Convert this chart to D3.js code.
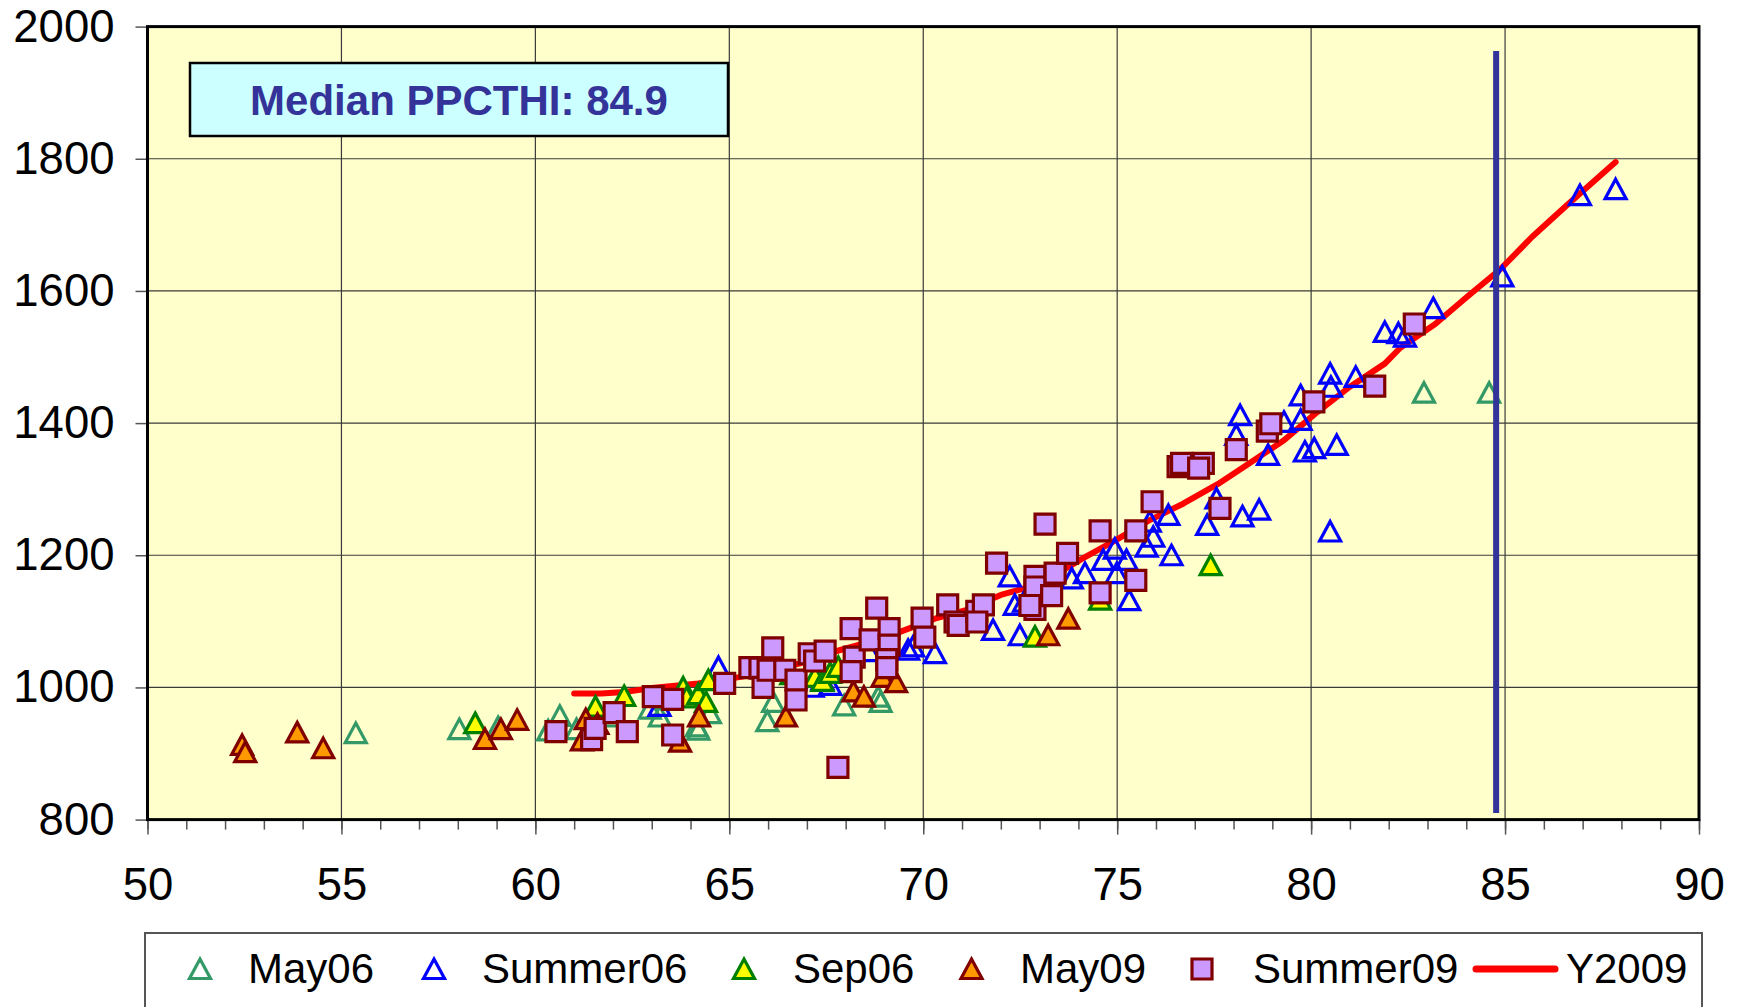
<!DOCTYPE html>
<html>
<head>
<meta charset="utf-8">
<script src="https://cdn.jsdelivr.net/npm/d3@7/dist/d3.min.js"></script>
<style>
  html, body { margin: 0; padding: 0; background: #ffffff; }
  svg { display: block; font-family: "Liberation Sans", Arial, sans-serif; }
</style>
</head>
<body>
<svg id="chart" width="1739" height="1007"></svg>
<script>
// ---------------- DATA ----------------
const xTicks = [50, 55, 60, 65, 70, 75, 80, 85, 90];
const yTicks = [800, 1000, 1200, 1400, 1600, 1800, 2000];
const seriesNames = ["May06", "Summer06", "Sep06", "May09", "Summer09", "Y2009"];
const medianLabel = "Median PPCTHI: 84.9";
const medianValue = 84.77;

const may06 = [[55.37,931],[58.04,937],[59.04,940],[60.33,935],[60.63,957],[61.06,937],[62.0,956],
  [62.95,968],[63.21,956],[64.16,941],[64.2,936],[64.5,961],[65.98,949],[66.13,978],[67.96,973],
  [68.84,986],[68.9,978],[82.91,1446],[84.59,1446]];

const summer06 = [[63.2,972],[64.72,1031],[67.15,1001],[67.6,1004],[67.4,1012],[68.6,1055],[69.61,1057],
  [69.74,1062],[70.3,1052],[71.8,1087],[72.23,1168],[72.36,1125],[72.49,1079],[72.6,1130],
  [73.83,1165],[74.17,1173],[74.64,1193],[74.94,1210],[74.99,1173],[75.24,1193],[75.76,1213],
  [75.93,1228],[75.84,1251],[76.32,1261],[76.4,1200],[75.31,1132],[77.56,1286],[77.32,1246],
  [78.23,1259],[78.66,1269],[78.07,1382],[78.17,1412],[78.89,1352],[79.84,1357],[80.08,1362],
  [80.66,1367],[80.49,1236],[79.3,1402],[79.73,1405],[79.73,1442],[80.49,1475],[80.51,1455],
  [81.15,1470],[81.9,1538],[82.25,1536],[82.42,1531],[83.15,1574],[84.93,1622],[86.93,1745],[87.85,1754]];

const sep06 = [[58.45,946],[61.55,971],[62.29,987],[63.81,1000],[63.9,985],[64.2,990],[64.4,978],
  [64.46,1011],[66.6,1020],[67.21,1016],[67.4,1010],[67.6,1022],[67.81,1031],[72.88,1077],
  [74.56,1133],[77.41,1185]];

const may09 = [[52.44,913],[52.52,902],[53.86,932],[54.53,908],[58.7,922],[59.11,937],[59.53,951],
  [61.2,920],[61.3,952],[61.6,945],[63.73,918],[64.22,956],[66.46,956],[68.2,994],[68.47,986],
  [68.95,1016],[69.3,1008],[73.22,1079],[73.74,1104]];

const summer09 = [[60.53,933],[61.45,921],[61.54,938],[62.03,962],[62.37,933],[63.04,986],[63.54,982],
  [63.54,928],[64.88,1006],[65.53,1030],[65.79,1029],[65.87,1000],[66.0,1026],[66.12,1060],
  [66.43,1026],[66.72,1011],[66.72,981],[67.06,1051],[67.2,1040],[67.47,1055],[68.14,1089],
  [68.22,1046],[68.14,1024],[68.8,1120],[68.63,1072],[69.12,1089],[69.12,1064],[69.06,1042],
  [69.06,1030],[69.97,1105],[70.04,1076],[67.8,879],[70.63,1125],[70.82,1099],[70.9,1094],
  [71.38,1115],[71.55,1125],[71.38,1099],[71.89,1188],[73.14,1247],[72.88,1168],[72.88,1152],
  [72.88,1118],[72.75,1124],[73.4,1173],[73.31,1139],[73.72,1203],[74.56,1237],[74.56,1143],
  [75.48,1237],[75.9,1281],[75.48,1162],[76.57,1334],[76.66,1339],[77.22,1339],[77.1,1332],
  [77.65,1271],[78.07,1360],[78.87,1388],[78.96,1399],[80.07,1432],[81.64,1456],[82.66,1550]];

const y2009X = [61.0,61.7,62.3,63.0,64.2,65.3,66.8,67.7,68.5,69.4,70.3,71.1,72.0,72.8,73.3,74.1,75.0,
  75.8,76.7,77.6,78.4,79.3,80.1,81.0,81.9,82.3,83.2,84.0,84.9,85.7,86.6,87.85];
const y2009Y = [991,991,993,999,1006,1016,1036,1054,1067,1084,1104,1117,1140,1153,1167,1195,1224,
  1252,1278,1308,1339,1374,1414,1455,1490,1514,1550,1590,1634,1682,1730,1795];

// ---------------- LAYOUT ----------------
const svg = d3.select("#chart");
const L = 147.5, R = 1699, T = 26.6, B = 819.6;
const x = d3.scaleLinear().domain([50, 90]).range([L, R]);
const y = d3.scaleLinear().domain([800, 2000]).range([B, T]);

const styles = {
  May06:    {shape: "tri", fill: "none",    stroke: "#339966"},
  Summer06: {shape: "tri", fill: "none",    stroke: "#0000FF"},
  Sep06:    {shape: "tri", fill: "#FFFF00", stroke: "#008000"},
  May09:    {shape: "tri", fill: "#FF9900", stroke: "#800000"},
  Summer09: {shape: "sq",  fill: "#CC99FF", stroke: "#800000"}
};
const triPath = "M0,-10L10.5,9.5L-10.5,9.5Z";
const sqPath = "M-10,-10H10V10H-10Z";

// plot background
svg.append("rect").attr("x", L).attr("y", T).attr("width", R - L).attr("height", B - T)
  .attr("fill", "#FFFFCC");

// gridlines
const grid = svg.append("g").attr("stroke", "#3a3a3a").attr("stroke-width", 1.2);
grid.selectAll(".gx").data(xTicks.filter(d => d > 50 && d < 90)).join("line")
  .attr("x1", d => x(d)).attr("x2", d => x(d)).attr("y1", T).attr("y2", B);
grid.selectAll(".gy").data(yTicks.filter(d => d > 800 && d < 2000)).join("line")
  .attr("y1", d => y(d)).attr("y2", d => y(d)).attr("x1", L).attr("x2", R);

// axes
const fontSize = 45.5;
const xMinor = svg.append("g").attr("transform", `translate(0,${B})`)
  .call(d3.axisBottom(x).tickValues(d3.range(50, 91, 1)).tickSize(10).tickFormat(""));
const xMajor = svg.append("g").attr("transform", `translate(0,${B})`)
  .call(d3.axisBottom(x).tickValues(xTicks).tickSize(15).tickPadding(33).tickFormat(d3.format("d")));
const yAxis = svg.append("g").attr("transform", `translate(${L},0)`)
  .call(d3.axisLeft(y).tickValues(yTicks).tickSize(12).tickPadding(21).tickFormat(d3.format("d")));
[xMinor, xMajor, yAxis].forEach(g => {
  g.select(".domain").remove();
  g.selectAll(".tick line").attr("stroke", "#555").attr("stroke-width", 1.5);
  g.selectAll(".tick text").attr("fill", "#000").style("font-size", fontSize + "px")
    .style("font-family", '"Liberation Sans", Arial, sans-serif');
});

// Y2009 line (drawn beneath markers)
const lineData = y2009X.map((d, i) => [d, y2009Y[i]]);
svg.append("path").datum(lineData)
  .attr("d", d3.line().x(d => x(d[0])).y(d => y(d[1])))
  .attr("fill", "none").attr("stroke", "#FF0000").attr("stroke-width", 6)
  .attr("stroke-linejoin", "round").attr("stroke-linecap", "round");

// scatter series
const seriesData = {May06: may06, Summer06: summer06, Sep06: sep06, May09: may09, Summer09: summer09};
Object.keys(seriesData).forEach(name => {
  const st = styles[name];
  svg.append("g").selectAll("path").data(seriesData[name]).join("path")
    .attr("d", st.shape === "tri" ? triPath : sqPath)
    .attr("transform", d => `translate(${x(d[0])},${y(d[1])})`)
    .attr("fill", st.fill).attr("stroke", st.stroke).attr("stroke-width", 3.2)
    .attr("stroke-linejoin", "miter");
});

// plot border
svg.append("rect").attr("x", L).attr("y", T).attr("width", R - L).attr("height", B - T)
  .attr("fill", "none").attr("stroke", "#000").attr("stroke-width", 3);

// median vertical line
svg.append("line")
  .attr("x1", x(medianValue)).attr("x2", x(medianValue))
  .attr("y1", y(1963)).attr("y2", y(810))
  .attr("stroke", "#333399").attr("stroke-width", 6);

// median label box
svg.append("rect").attr("x", 190).attr("y", 63).attr("width", 538).attr("height", 73)
  .attr("fill", "#CCFFFF").attr("stroke", "#000").attr("stroke-width", 2.5);
svg.append("text").attr("x", 459).attr("y", 115).attr("text-anchor", "middle")
  .attr("fill", "#333399").style("font-size", "42px").style("font-weight", "bold")
  .text(medianLabel);

// legend
const lg = svg.append("g");
lg.append("rect").attr("x", 145).attr("y", 933).attr("width", 1557).attr("height", 120)
  .attr("fill", "#fff").attr("stroke", "#555").attr("stroke-width", 2);
const legendMarkerX = [200, 434, 744, 971.5, 1202];
const legendTextX = [248, 482, 793, 1020, 1253, 1566];
const legY = 969;
seriesNames.forEach((name, i) => {
  if (name === "Y2009") {
    lg.append("line").attr("x1", 1476).attr("x2", 1555).attr("y1", legY).attr("y2", legY)
      .attr("stroke", "#FF0000").attr("stroke-width", 7).attr("stroke-linecap", "round");
  } else {
    const st = styles[name];
    lg.append("path").attr("d", st.shape === "tri" ? triPath : sqPath)
      .attr("transform", `translate(${legendMarkerX[i]},${legY})`)
      .attr("fill", st.fill).attr("stroke", st.stroke).attr("stroke-width", 3.2);
  }
  lg.append("text").attr("x", legendTextX[i]).attr("y", 983)
    .style("font-size", "42px").attr("fill", "#000").text(name);
});
</script>
</body>
</html>
